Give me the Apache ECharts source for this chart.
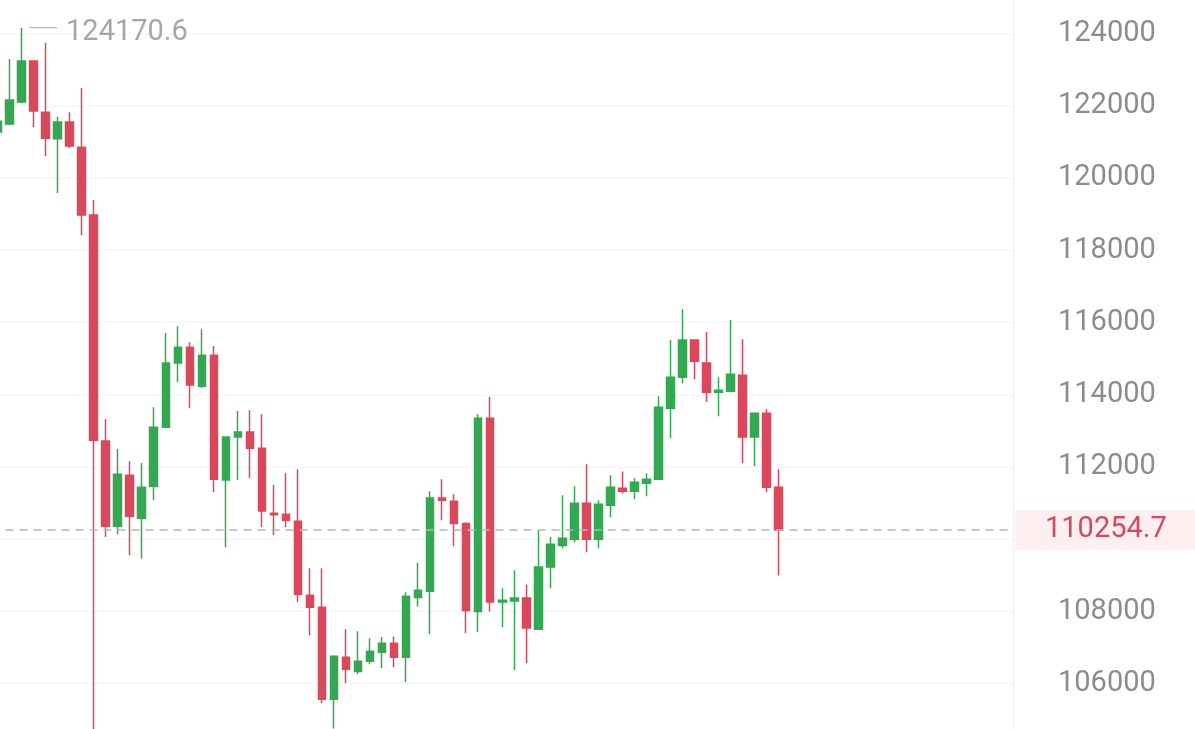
<!DOCTYPE html>
<html>
<head>
<meta charset="utf-8">
<script src="https://cdn.jsdelivr.net/npm/echarts@6/dist/echarts.min.js"></script>
<style>
html,body{margin:0;padding:0;background:#ffffff;}
#chart{width:1195px;height:729px;}
</style>
</head>
<body>
<div id="chart"></div>
<script>
// Candle values, one entry per period (first one is cut by the left edge)
const opens = [121280,121500,122110,123250,121830,121090,121560,120860,118980,112720,
  110360,111770,110580,111470,113100,114880,115320,114240,115100,111640,
  112830,112970,112520,110720,110690,110500,108450,108120,105570,106730,
  106340,106620,106870,107120,106730,108390,108560,111140,111050,110440,
  108000,113350,108260,108290,108370,107510,109230,109830,110000,111000,
  110000,110940,111410,111330,111550,111660,113630,114490,115520,114880,
  114070,114100,114540,112830,113490,111440];
const closes = [121580,122170,123250,121860,121110,121560,120890,118980,112740,110360,
  111800,110640,111440,113100,114880,115320,114270,115100,111660,112830,
  112970,112520,110780,110680,110530,108480,108120,105570,106760,106400,
  106620,106900,107120,106730,108420,108590,111140,111080,110440,108030,
  113350,108260,108310,108370,107540,109230,109860,110030,111000,110000,
  110970,111440,111330,111580,111660,113660,114490,115520,114930,114070,
  114130,114570,112830,113490,111440,110254.7];
const lows = [121220,121470,122080,121420,120610,119590,120840,118420,104400,110060,
  110140,109560,109470,111080,113080,114350,113630,114190,111300,109780,
  111640,111690,110330,110110,110330,108260,107340,105460,104760,106010,
  106260,106540,106430,106460,106040,108140,107370,110530,109810,107400,
  107430,108000,107560,106370,106570,107490,108640,109750,109920,109640,
  109750,110610,111270,111110,111190,111640,112800,114320,114430,113800,
  113410,114080,112110,112020,111300,109000];
const highs = [121830,123300,124170.6,123270,123750,121700,121830,122500,119400,113330,
  112500,112160,112110,113660,115710,115900,115460,115820,115350,112850,
  113550,113580,113460,111500,111830,111940,109200,109200,106790,107510,
  107450,107260,107290,107310,108530,109360,111330,111660,111250,110470,
  113460,113940,108640,109140,108750,110250,110060,111220,111470,112080,
  111080,111770,111880,111690,111830,113960,115520,116370,115540,115740,
  114490,116070,115540,113510,113600,111940];
// Price axis ticks
const yTickMin = 104000, yTickMax = 126000, yTickStep = 2000;
// Total number of period slots on the time axis (empty slots on the right)
const slotCount = 85;
const lastPrice = closes[closes.length - 1];

const categories = Array.from({length: slotCount}, (_, i) => 'P' + (i + 1));
const candleData = opens.map((o, i) => [o, closes[i], lows[i], highs[i]]);

const UP = '#35a853';
const DOWN = '#d9485b';

const chart = echarts.init(document.getElementById('chart'), null, {renderer: 'canvas'});
chart.setOption({
  animation: false,
  backgroundColor: '#ffffff',
  grid: {left: -8.5, right: 182, top: -38.4, bottom: -26.9, containLabel: false, outerBoundsMode: 'none'},
  xAxis: {
    type: 'category',
    data: categories,
    boundaryGap: true,
    axisLine: {show: false},
    axisTick: {show: false},
    axisLabel: {show: false},
    splitLine: {show: false}
  },
  yAxis: {
    type: 'value',
    position: 'right',
    min: yTickMin,
    max: yTickMax,
    interval: yTickStep,
    scale: true,
    axisLine: {show: true, lineStyle: {color: '#eeeeee', width: 1}},
    axisTick: {show: false},
    axisLabel: {
      show: true,
      margin: 45,
      color: '#8c8c8c',
      fontFamily: 'Roboto',
      fontSize: 29,
      formatter: (v) => String(v)
    },
    splitLine: {show: true, lineStyle: {color: '#f3f3f3', width: 1}}
  },
  series: [{
    type: 'candlestick',
    data: candleData,
    barWidth: 8,
    clip: false,
    itemStyle: {
      color: UP,
      color0: DOWN,
      borderColor: UP,
      borderColor0: DOWN,
      borderWidth: 1.5
    },
    markPoint: {
      symbol: 'rect',
      symbolSize: [28, 1.2],
      symbolOffset: [21.5, 0],
      itemStyle: {color: '#b5b5b5'},
      label: {
        show: true,
        position: 'right',
        distance: 9,
        offset: [0, 5],
        color: '#a6a6a6',
        fontFamily: 'Roboto',
        fontSize: 29,
        formatter: (p) => String(p.value)
      },
      data: [{type: 'max', valueDim: 'highest'}]
    },
    markLine: {
      symbol: ['none', 'none'],
      silent: true,
      animation: false,
      lineStyle: {color: '#b8b8b8', width: 1.5, type: [8, 6]},
      label: {
        show: true,
        position: 'end',
        distance: 2,
        color: '#d24a5c',
        fontFamily: 'Roboto',
        fontSize: 29,
        lineHeight: 29,
        backgroundColor: '#fdeef0',
        padding: [7, 28, 4, 30],
        formatter: () => String(lastPrice)
      },
      data: [{yAxis: lastPrice}]
    }
  }]
});
</script>
</body>
</html>
